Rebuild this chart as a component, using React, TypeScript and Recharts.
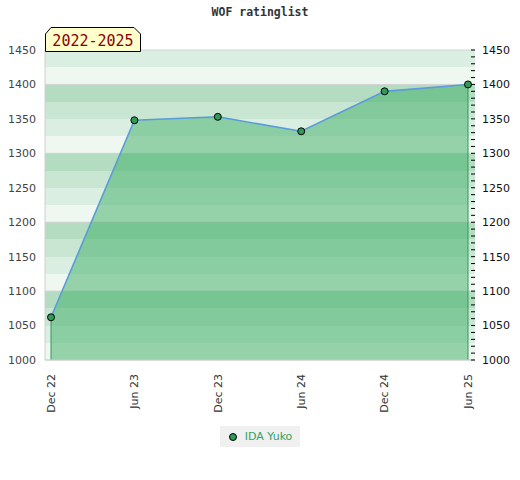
import {
  ComposedChart,
  Area,
  Line,
  XAxis,
  YAxis,
  CartesianGrid,
  ReferenceLine,
  Legend,
} from 'recharts';

const months = ['Dec 22', 'Jun 23', 'Dec 23', 'Jun 24', 'Dec 24', 'Jun 25'];
const ratings = [1062, 1348, 1353, 1332, 1390, 1400];
const majorTicks = [1000, 1050, 1100, 1150, 1200, 1250, 1300, 1350, 1400, 1450];
const gridValues = [1000, 1100, 1200, 1300, 1400, 1450];
const playerName = 'IDA Yuko';
const periodLabel = '2022-2025';

const Y_MIN = 1000;
const Y_MAX = 1450;
const minorTicks = Array.from({ length: (Y_MAX - Y_MIN) / 10 + 1 }, (_, i) => Y_MIN + i * 10);
const stripeValues = Array.from({ length: (Y_MAX - Y_MIN) / 25 + 1 }, (_, i) => Y_MIN + i * 25);
// stripes listed top-down, repeating every 100 points
const stripeColors = ['#dbeee2', '#eff7f1', '#b3dcc0', '#c8e6d2'];

const data = months.map((m, i) => ({ month: m, rating: ratings[i] }));

const GREEN = '#2f9b56';

// place grid lines at given rating values through the y axis scale
const linesAt = (values: number[]) => (props: any) => {
  const scale = props?.yAxis?.scale;
  let toPx: ((v: number) => number) | null = null;
  if (typeof scale === 'function') toPx = (v) => scale(v);
  else if (scale && typeof scale.map === 'function') toPx = (v) => scale.map(v);
  else if (scale && typeof scale.apply === 'function') toPx = (v) => scale.apply(v);
  if (!toPx) {
    const off = props?.offset;
    if (!off) return [];
    toPx = (v) => off.top + ((Y_MAX - v) / (Y_MAX - Y_MIN)) * off.height;
  }
  return values.map((v) => toPx!(v));
};

function XTick({ x, y, payload }: { x?: number; y?: number; payload?: { value: string } }) {
  return (
    <text
      x={x}
      y={(y ?? 0) + 6}
      transform={`rotate(-90 ${x} ${(y ?? 0) + 6})`}
      textAnchor="end"
      dy="0.35em"
      fill="#333"
      fontSize={11}
      fontFamily="DejaVu Sans"
    >
      {payload?.value}
    </text>
  );
}

function RightTick({ x, y, payload }: { x?: number; y?: number; payload?: { value: number } }) {
  const v = payload?.value ?? 0;
  return (
    <g>
      <line x1={(x ?? 0) - 4} x2={x} y1={y} y2={y} stroke="#000" strokeWidth={1} />
      {v % 50 === 0 && (
        <text x={(x ?? 0) + 7} y={y} dy="0.35em" fill="#111" fontSize={11} fontFamily="DejaVu Sans">
          {v}
        </text>
      )}
    </g>
  );
}

function LegendBox() {
  return (
    <div style={{ textAlign: 'center' }}>
      <div
        style={{
          display: 'inline-flex',
          alignItems: 'center',
          background: '#f0f0f0',
          padding: '3px 8px 3px 9px',
          fontFamily: 'DejaVu Sans',
          fontSize: 11,
          color: '#34a361',
          lineHeight: '15px',
        }}
      >
        <svg width={14} height={10} style={{ marginRight: 2 }}>
          <circle cx={4} cy={5} r={3.5} fill={GREEN} stroke="#000" strokeWidth={1} />
        </svg>
        {playerName}
      </div>
    </div>
  );
}

export default function App() {
  return (
    <div style={{ position: 'absolute', left: 0, top: 0, width: 520, height: 480, background: '#fff' }}>
      <div
        style={{
          position: 'absolute',
          left: 0,
          top: 5,
          width: 520,
          textAlign: 'center',
          fontFamily: 'DejaVu Sans Mono',
          fontWeight: 'bold',
          fontSize: 11.5,
          color: '#333',
        }}
      >
        WOF ratinglist
      </div>
      <ComposedChart
        width={520}
        height={480}
        data={data}
        margin={{ top: 50, right: 0, bottom: 33, left: 0 }}
      >
        <CartesianGrid
          yAxisId="left"
          vertical={false}
          horizontalCoordinatesGenerator={linesAt(stripeValues)}
          horizontalFill={stripeColors}
          stroke="none"
        />
        <CartesianGrid
          yAxisId="left"
          vertical={false}
          horizontalCoordinatesGenerator={linesAt(gridValues)}
          stroke="#d4d4d4"
          fill="none"
        />
        <XAxis
          dataKey="month"
          scale="point"
          padding={{ left: 6, right: 7 }}
          interval={0}
          height={66}
          tickLine={false}
          axisLine={{ stroke: '#d0d0d0' }}
          tick={<XTick />}
        />
        <YAxis
          yAxisId="left"
          domain={[Y_MIN, Y_MAX]}
          ticks={majorTicks}
          allowDataOverflow
          width={45}
          tickSize={0}
          tickMargin={9}
          tickLine={false}
          axisLine={{ stroke: '#d0d0d0' }}
          tick={{ fill: '#444', fontSize: 11, fontFamily: 'DejaVu Sans' }}
        />
        <YAxis
          yAxisId="right"
          orientation="right"
          domain={[Y_MIN, Y_MAX]}
          ticks={minorTicks}
          interval={0}
          allowDataOverflow
          width={45}
          tickSize={0}
          tickMargin={0}
          tickLine={false}
          axisLine={false}
          tick={<RightTick />}
        />
        <Area
          yAxisId="left"
          dataKey="rating"
          type="linear"
          fill="#3cad64"
          fillOpacity={0.5}
          stroke="none"
          dot={false}
          activeDot={false}
          isAnimationActive={false}
        />
        <ReferenceLine
          yAxisId="left"
          segment={[{ x: months[0], y: Y_MIN }, { x: months[0], y: ratings[0] }]}
          stroke={GREEN}
          strokeWidth={1}
        />
        <ReferenceLine
          yAxisId="left"
          segment={[
            { x: months[months.length - 1], y: Y_MIN },
            { x: months[months.length - 1], y: ratings[ratings.length - 1] },
          ]}
          stroke={GREEN}
          strokeWidth={1}
        />
        <Line
          yAxisId="right"
          dataKey="rating"
          name={playerName}
          type="linear"
          stroke="#5b9bdc"
          strokeWidth={1.6}
          dot={{ r: 3.5, fill: GREEN, stroke: '#000', strokeWidth: 1 }}
          activeDot={false}
          isAnimationActive={false}
        />
        <Legend verticalAlign="bottom" content={<LegendBox />} />
      </ComposedChart>
      <svg width={97} height={25} style={{ position: 'absolute', left: 45, top: 27 }}>
        <polygon
          points="0.5,24.5 0.5,7 6,0.5 89,0.5 95.5,7 95.5,24.5"
          fill="#ffffcc"
          stroke="#000"
          strokeWidth={1}
        />
        <text x={48} y={19} textAnchor="middle" fill="#8b0000" fontSize={15} fontFamily="DejaVu Sans Mono">
          {periodLabel}
        </text>
      </svg>
    </div>
  );
}
